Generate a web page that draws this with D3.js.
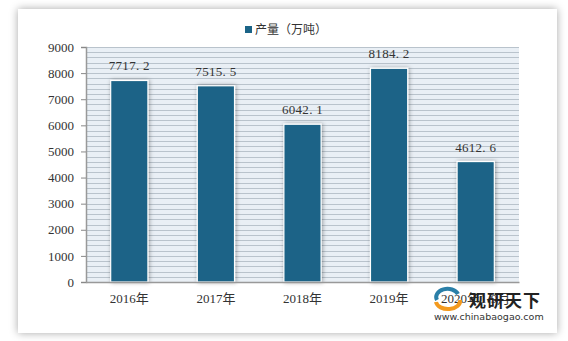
<!DOCTYPE html>
<html><head><meta charset="utf-8">
<script src="https://cdn.jsdelivr.net/npm/d3@7"></script>
<style>body{margin:0;background:#fff;}svg{display:block;}</style>
</head><body>
<svg id="c" width="568" height="341"></svg>
<script>
const categories = ["2016年","2017年","2018年","2019年","2020年1-9月"];
const values = [7717.2, 7515.5, 6042.1, 8184.2, 4612.6];
const yTicks = [0,1000,2000,3000,4000,5000,6000,7000,8000,9000];
const seriesName = "产量（万吨）";

const svg = d3.select("#c");
const defs = svg.append("defs");
const f = defs.append("filter").attr("id","card").attr("x","-10%").attr("y","-10%").attr("width","120%").attr("height","120%");
f.append("feDropShadow").attr("dx",0).attr("dy",0).attr("stdDeviation",4).attr("flood-color","#000").attr("flood-opacity",0.35);
const fb = defs.append("filter").attr("id","bar").attr("x","-30%").attr("y","-10%").attr("width","160%").attr("height","120%");
fb.append("feDropShadow").attr("dx",1).attr("dy",0).attr("stdDeviation",2).attr("flood-color","#000").attr("flood-opacity",0.35);

svg.append("rect").attr("x",18).attr("y",9).attr("width",539).attr("height",324).attr("fill","#fff").attr("filter","url(#card)");

const m = {l:86, r:519, t:47, b:282};
const x = d3.scaleBand().domain(categories).range([m.l,m.r]).paddingInner(0.57).paddingOuter(0.285);
const y = d3.scaleLinear().domain([0,9000]).range([m.b,m.t]);

// plot background with stripes
svg.append("rect").attr("x",m.l).attr("y",m.t).attr("width",m.r-m.l).attr("height",m.b-m.t).attr("fill","#e9eff5");
svg.append("g").selectAll("line").data(d3.range(0,9001,200)).join("line")
  .attr("x1",m.l).attr("x2",m.r).attr("y1",d=>Math.round(y(d))+0.5).attr("y2",d=>Math.round(y(d))+0.5)
  .attr("stroke","#b9c3cc").attr("stroke-width",1);

// bars
svg.append("g").selectAll("rect").data(values).join("rect")
  .attr("x",(d,i)=>x(categories[i])).attr("width",x.bandwidth())
  .attr("y",d=>y(d)).attr("height",d=>y(0)-y(d))
  .attr("fill","#1b6487").attr("stroke","#fff").attr("stroke-width",1.2)
  .attr("filter","url(#bar)");

// value labels
svg.append("g").selectAll("text").data(values).join("text")
  .attr("x",(d,i)=>x(categories[i])+x.bandwidth()/2).attr("y",d=>y(d)-10)
  .attr("text-anchor","middle").attr("font-family","'Liberation Serif','Noto Sans CJK SC',serif")
  .attr("font-size",13).attr("fill","#333").attr("letter-spacing",0.3)
  .text(d=>d.toFixed(1).replace(".",". "));

// axes
const ya = svg.append("g").attr("transform",`translate(${m.l},0)`)
  .call(d3.axisLeft(y).tickValues(yTicks).tickSize(5).tickPadding(7).tickFormat(d3.format("d")));
ya.select(".domain").attr("stroke","#999").attr("stroke-width",1.5);
ya.selectAll(".tick line").attr("stroke","#888");
ya.selectAll("text").attr("font-family","'Liberation Serif',serif").attr("font-size",13).attr("fill","#333");

const xa = svg.append("g").attr("transform",`translate(0,${m.b})`)
  .call(d3.axisBottom(x).tickSize(0).tickPadding(12));
xa.select(".domain").attr("stroke","#999").attr("stroke-width",1.5);
xa.selectAll("text").attr("font-family","'Liberation Serif','Noto Sans CJK SC',serif").attr("font-size",13).attr("fill","#333");

// legend
svg.append("rect").attr("x",245).attr("y",26).attr("width",7).attr("height",7).attr("fill","#1b6487");
svg.append("text").attr("x",255).attr("y",34).attr("font-family","'Noto Sans CJK SC',sans-serif").attr("font-size",12).attr("fill","#333").text(seriesName);

// watermark
const wm = svg.append("g");
wm.append("path").attr("d","M437,300 A11,8 0 0 1 458,294").attr("fill","none").attr("stroke","#2a7fa8").attr("stroke-width",4);
wm.append("path").attr("d","M436,302 A12,8 0 0 0 460,300").attr("fill","none").attr("stroke","#f39a1e").attr("stroke-width",4);
wm.append("text").attr("x",469).attr("y",307).attr("font-family","'Noto Sans CJK SC',sans-serif").attr("font-weight","bold").attr("font-size",17).attr("fill","#222").attr("letter-spacing",1).text("观研天下");
wm.append("text").attr("x",434).attr("y",320).attr("font-family","'DejaVu Sans',sans-serif").attr("font-size",9.5).attr("fill","#333").text("www.chinabaogao.com");
</script>
</body></html>
